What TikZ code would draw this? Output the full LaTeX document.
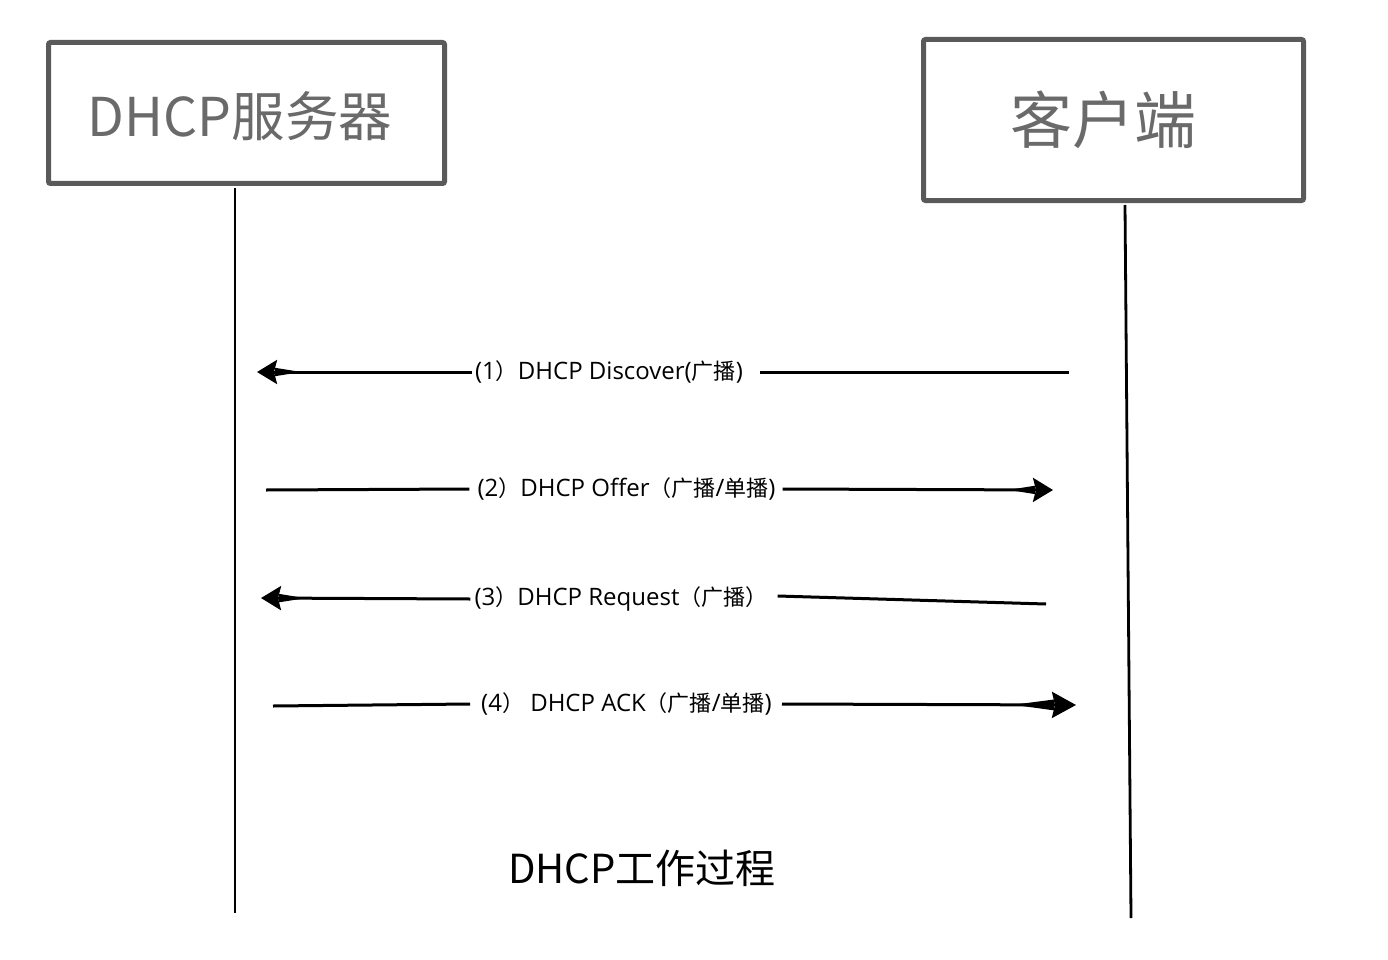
\documentclass[tikz,border=0pt]{standalone}
\usepackage{fontspec}
\setmainfont{Open Sans}
\newfontfamily\cjk{Noto Sans CJK SC}
\usetikzlibrary{arrows.meta}
\definecolor{boxgray}{HTML}{5A5A5A}
\definecolor{txtgray}{HTML}{6A6A6A}
\newcommand{\zh}[1]{{\cjk\fontsize{22}{25}\selectfont #1}}
\tikzset{
  actor/.style={draw=boxgray, line width=5pt, rounded corners=2pt, fill=white, inner sep=0pt},
  actortext/.style={text=txtgray, inner sep=0pt, font=\cjk},
  life/.style={line width=2.8pt, black},
  msgline/.style={line width=3pt, black},
  msglabel/.style={inner sep=0pt, font=\fontsize{24}{27}\selectfont, text=black},
  caption/.style={inner sep=0pt, font=\cjk\fontsize{40}{46}\selectfont, text=black},
  headsmall/.style={-{Triangle[reversed,length=28pt,width=7.5pt,sep=-2pt] Stealth[length=20pt,width=24pt,inset=3pt]}},
  headbig/.style={-{Triangle[reversed,length=42pt,width=10pt,sep=-2pt] Stealth[length=24pt,width=26pt,inset=3pt]}}
}
\begin{document}
\begin{tikzpicture}[x=1pt,y=-1pt]
\useasboundingbox[fill=white] (0,0) rectangle (1388,960);

% actors
\node[actor, minimum width=396pt, minimum height=141pt] (srv) at (246.5,113) {};
\node[actortext, font=\cjk\fontsize{53.5}{60}\selectfont] (srvtxt) at (240,116) {DHCP服务器};
\node[actor, minimum width=380pt, minimum height=161pt] (cli) at (1113.5,120) {};
\node[actortext, font=\cjk\fontsize{62}{68}\selectfont] (clitxt) at (1103,120) {客户端};

% lifelines
\coordinate (srvtop) at (235,188);
\coordinate (srvbot) at (235,913);
\coordinate (clitop) at (1125,205);
\coordinate (clibot) at (1131,918);
\draw[life] (srvtop) -- (srvbot);
\draw[life] (clitop) -- (clibot);

% message 1
\coordinate (a1s) at (1069,372);
\coordinate (a1e) at (257,372);
\node[msglabel] (m1) at (609,372) {(1\zh{）}DHCP Discover(\zh{广播})};
\draw[msgline] (a1s) -- ([xshift=17pt]m1.east);
\draw[msgline, headsmall] ([xshift=-3pt]m1.west) -- (a1e);

% message 2
\coordinate (a2s) at (266,490);
\coordinate (a2e) at (1053,490);
\node[msglabel] (m2) at (626.5,489) {(2\zh{）}DHCP Offer\zh{（广播}/\zh{单播})};
\draw[msgline] (a2s) -- ([xshift=-8pt]m2.west);
\draw[msgline, headsmall] ([xshift=7pt]m2.east) -- (a2e);

% message 3
\coordinate (a3s) at (1046,604);
\coordinate (a3e) at (261,598);
\node[msglabel] (m3) at (621,599) {(3\zh{）}DHCP Request\zh{（广播）}};
\draw[msgline] (a3s) -- ([xshift=10pt,yshift=3pt]m3.east);
\draw[msgline, headsmall] ([xshift=-4pt]m3.west) -- (a3e);

% message 4
\coordinate (a4s) at (273,706);
\coordinate (a4e) at (1076,705);
\node[msglabel] (m4) at (626.5,704) {(4\zh{）} DHCP ACK\zh{（广播}/\zh{单播})};
\draw[msgline] (a4s) -- ([xshift=-11pt]m4.west);
\draw[msgline, headbig] ([xshift=10pt]m4.east) -- (a4e);

% caption
\node[caption] (cap) at (642,868) {DHCP工作过程};
\end{tikzpicture}
\end{document}
